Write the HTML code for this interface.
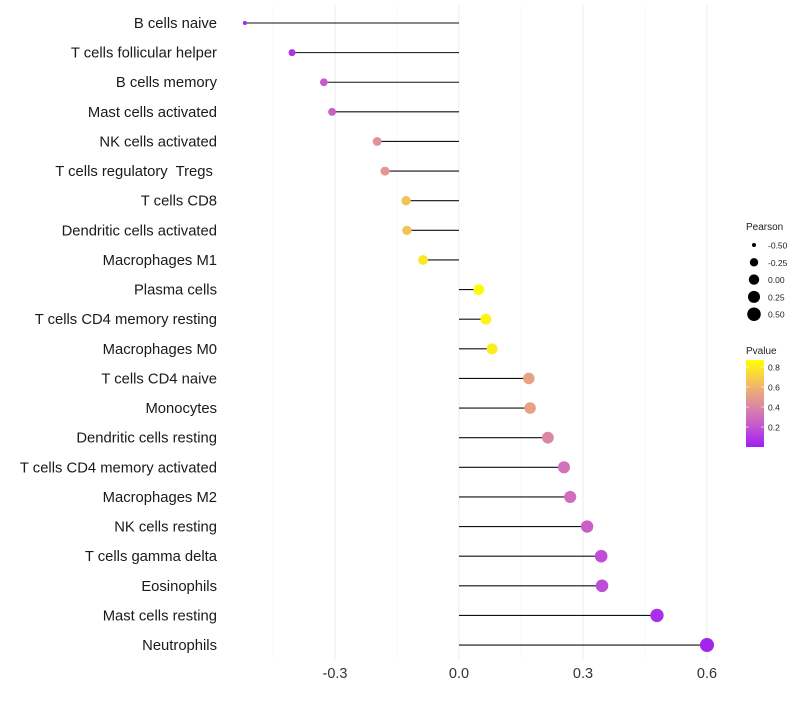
<!DOCTYPE html>
<html><head><meta charset="utf-8"><style>
body{margin:0;background:#fff;font-family:"Liberation Sans",sans-serif;}
</style></head><body>
<svg id="chart" width="800" height="700" xmlns="http://www.w3.org/2000/svg" font-family="Liberation Sans, sans-serif"></svg>
<script>
const categories=["B cells naive","T cells follicular helper","B cells memory","Mast cells activated","NK cells activated","T cells regulatory  Tregs ","T cells CD8","Dendritic cells activated","Macrophages M1","Plasma cells","T cells CD4 memory resting","Macrophages M0","T cells CD4 naive","Monocytes","Dendritic cells resting","T cells CD4 memory activated","Macrophages M2","NK cells resting","T cells gamma delta","Eosinophils","Mast cells resting","Neutrophils"];
const pearson=[-0.518,-0.404,-0.327,-0.307,-0.198,-0.179,-0.128,-0.126,-0.087,0.048,0.065,0.080,0.169,0.172,0.215,0.254,0.269,0.310,0.344,0.346,0.479,0.600];
const pvalue=[0.02,0.08,0.22,0.25,0.45,0.47,0.65,0.65,0.78,0.86,0.83,0.80,0.52,0.52,0.40,0.32,0.30,0.24,0.17,0.17,0.06,0.02];
const xTicks=[-0.3,0,0.3,0.6];
const xTickLabels=["-0.3","0.0","0.3","0.6"];
const minorTicks=[-0.45,-0.15,0.15,0.45];
const sizeLegend=[-0.50,-0.25,0.00,0.25,0.50];
const sizeLegendLabels=["-0.50","-0.25","0.00","0.25","0.50"];
const pLegend=[0.2,0.4,0.6,0.8];

const NS="http://www.w3.org/2000/svg";
const svg=document.getElementById('chart');
const x=v=>459+v*413.3;
const y=i=>23+i*29.62;
const r=v=>v<-0.45?2:Math.sqrt(Math.max(4,27+37*v));
const stops=[[0,[160,30,240]],[0.2,[195,85,210]],[0.4,[218,135,165]],[0.6,[240,180,110]],[0.87,[255,255,0]]];
function col(p){
  for(let i=0;i<stops.length-1;i++){const a=stops[i],b=stops[i+1];
    if(p<=b[0]||i==stops.length-2){const t=Math.max(0,Math.min(1,(p-a[0])/(b[0]-a[0])));
      return 'rgb('+a[1].map((c,k)=>Math.round(c+(b[1][k]-c)*t)).join(',')+')';}}
}
function el(tag,attrs,parent){const e=document.createElementNS(NS,tag);for(const k in attrs)e.setAttribute(k,attrs[k]);(parent||svg).appendChild(e);return e;}

minorTicks.forEach(t=>{const g=el('line',{x1:x(t),x2:x(t),y1:5,y2:660,stroke:'#f4f4f4','stroke-width':0.6});

});
xTicks.forEach((t,i)=>{const g=el('line',{x1:x(t),x2:x(t),y1:5,y2:660,stroke:'#ededed','stroke-width':1.1});


const tx=el('text',{x:x(t),y:678,'text-anchor':'middle','font-size':14.5,fill:'#333'});tx.textContent=xTickLabels[i];

});

categories.forEach((c,i)=>{
  const lab=el('text',{x:217,y:y(i)+5,'text-anchor':'end','font-size':14.8,fill:'#1a1a1a'});
  lab.setAttribute('style','white-space:pre');lab.textContent=c;
  
  
  const ln=el('line',{x1:x(0),x2:x(pearson[i]),y1:y(i),y2:y(i),stroke:'#111','stroke-width':1.1});
  
  
  const pt=el('circle',{cx:x(pearson[i]),cy:y(i),r:r(pearson[i]),fill:col(pvalue[i])});
  
  
});

const st=el('text',{x:746,y:230,'font-size':10,fill:'#222'});st.textContent='Pearson';


sizeLegend.forEach((v,i)=>{const cy=245+i*17.3;
  const c=el('circle',{cx:754,cy:cy,r:r(v),fill:'#000'});
  
  
  const t=el('text',{x:768,y:cy+3.5,'font-size':8.5,fill:'#222'});t.textContent=sizeLegendLabels[i];
  
  });

const pt=el('text',{x:746,y:354,'font-size':10,fill:'#222'});pt.textContent='Pvalue';


const defs=el('defs',{});const lg=el('linearGradient',{id:'pg',x1:0,y1:1,x2:0,y2:0},defs);
stops.forEach(s=>el('stop',{offset:s[0]/0.87,'stop-color':'rgb('+s[1].join(',')+')'},lg));
const bar=el('rect',{x:746,y:360,width:18,height:87,fill:'url(#pg)'});


const py=p=>447-p*100;
pLegend.forEach(p=>{const t=el('text',{x:768,y:py(p)+3.5,'font-size':8.5,fill:'#222'});t.textContent=p.toFixed(1);
  
  
  el('line',{x1:746,x2:749,y1:py(p),y2:py(p),stroke:'#fff','stroke-width':0.6});
  el('line',{x1:761,x2:764,y1:py(p),y2:py(p),stroke:'#fff','stroke-width':0.6});});
</script>
</body></html>
